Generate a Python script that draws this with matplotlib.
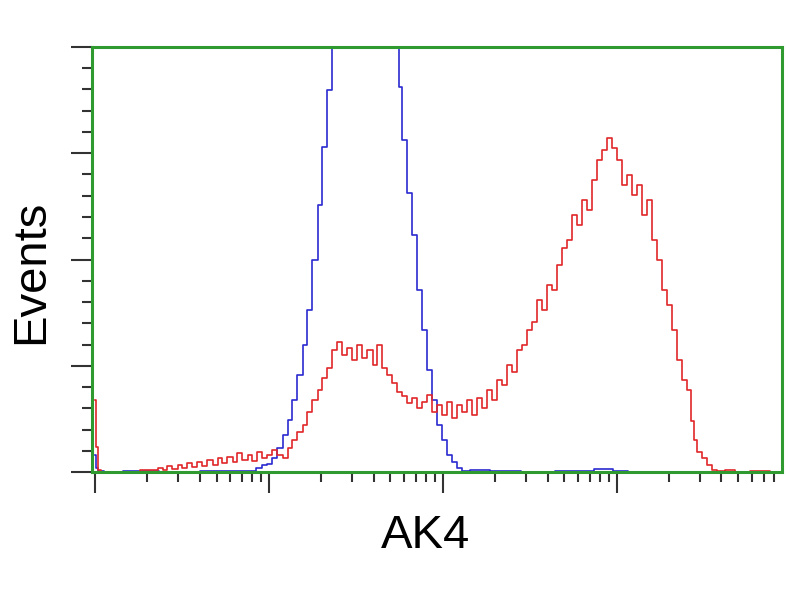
import numpy as np
import matplotlib
matplotlib.use('Agg')
import matplotlib.pyplot as plt
from matplotlib.ticker import FixedLocator, NullFormatter

# flow cytometry histogram, 4-decade log scale, 1024 channels
red_ch = [0, 3, 6, 12, 40, 88, 96, 103, 110, 118, 125, 132, 140, 147, 154, 162, 169, 177, 184,
          191, 199, 206, 213, 221, 228, 235, 243, 250, 257, 265, 272, 280, 287, 294,
          302, 309, 316, 324, 331, 338, 346, 353, 360, 368, 375, 382, 390, 397, 405,
          412, 419, 427, 434, 441, 449, 456, 463, 471, 478, 485, 493, 500, 507, 515,
          522, 530, 537, 544, 552, 559, 566, 574, 581, 588, 596, 603, 610, 618, 625,
          633, 640, 647, 655, 662, 669, 677, 684, 691, 699, 706, 713, 721, 728, 736,
          743, 750, 758, 765, 772, 780, 787, 794, 802, 809, 816, 824, 831, 838, 846,
          853, 861, 868, 875, 879, 883, 890, 897, 905, 912, 919, 934, 949, 978, 1008]
red_ev = [170, 60, 5, 0, 0, 5, 9, 5, 14, 7, 16, 9, 21, 12, 24, 14, 28, 16, 33,
          21, 35, 24, 45, 28, 40, 26, 47, 33, 40, 52, 40, 33, 56, 75,
          94, 111, 141, 169, 193, 221, 245, 287, 306, 275, 292, 264, 299, 268, 287,
          252, 299, 245, 228, 209, 188, 179, 162, 174, 151, 165, 181, 141, 158, 134,
          165, 127, 158, 141, 169, 134, 174, 151, 193, 169, 216, 205, 252, 235, 287,
          299, 334, 353, 405, 381, 440, 428, 487, 527, 546, 605, 581, 640, 616, 687,
          734, 758, 786, 762, 734, 675, 699, 652, 675, 605, 640, 546, 499, 428, 393,
          334, 264, 216, 193, 120, 75, 47, 33, 16, 5, 2, 4, 1, 3, 0]

blue_ch = [0, 3, 6, 20, 60, 120, 180, 230, 243, 250, 257, 265, 272, 280, 287, 294, 302, 309,
           316, 324, 331, 338, 346, 353, 360, 375, 397, 419, 434, 446, 449, 456, 463,
           471, 478, 485, 493, 500, 507, 515, 522, 530, 537, 544, 560, 600, 650, 700,
           760, 765, 800, 900, 1008]
blue_ev = [40, 10, 2, 0, 3, 0, 2, 3, 9, 16, 19, 33, 56, 87, 122, 169, 228, 299,
           381, 499, 628, 765, 899, 1050, 1140, 1280, 1350, 1290, 1120, 1000, 906, 781, 656,
           558, 428, 334, 240, 169, 111, 75, 40, 24, 9, 2, 4, 2, 0, 3,
           6, 2, 0, 0, 0]

red_x = 10 ** (np.array(red_ch) / 256.0)
blue_x = 10 ** (np.array(blue_ch) / 256.0)

green = '#2f9a2f'

fig = plt.figure(figsize=(8, 6), dpi=100)
ax = fig.add_axes([0.115, 0.2133, 0.8625, 0.7084])

ax.plot(blue_x, blue_ev, color='#2a2ad0', lw=1.2, drawstyle='steps-mid')
ax.plot(red_x, red_ev, color='#e0262a', lw=1.2, drawstyle='steps-mid')

ax.set_xscale('log')
ax.set_xlim(10 ** -0.017, 10 ** 3.95)
ax.set_ylim(0, 1000)

ax.xaxis.set_major_locator(FixedLocator([1, 10, 100, 1000]))
minors = [m * 10 ** d for d in range(4) for m in range(2, 10)]
ax.xaxis.set_minor_locator(FixedLocator(minors))
ax.yaxis.set_major_locator(FixedLocator([0, 250, 500, 750, 1000]))
ax.yaxis.set_minor_locator(FixedLocator([v for v in range(50, 1000, 50) if v % 250]))
ax.xaxis.set_major_formatter(NullFormatter())
ax.xaxis.set_minor_formatter(NullFormatter())
ax.yaxis.set_major_formatter(NullFormatter())

ax.tick_params(which='major', direction='out', length=15, width=1.5, color='#333333')
ax.tick_params(which='minor', direction='out', length=7, width=1.5, color='#333333')
ax.tick_params(top=False, right=False)

for s in ax.spines.values():
    s.set_color(green)
    s.set_linewidth(2.2)

fig.text(426 / 800, 1 - 548 / 600, 'AK4', fontsize=34, family='Liberation Sans',
         ha='center', va='baseline')
fig.text(31 / 800, 1 - 272 / 600, 'Events', fontsize=34, family='Liberation Sans',
         rotation=90, ha='center', va='center')

fig.savefig('out.png', dpi=100)
